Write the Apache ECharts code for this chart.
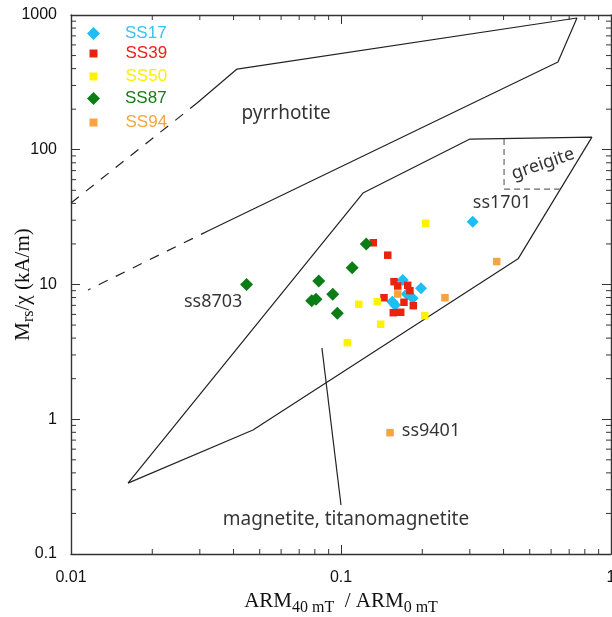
<!DOCTYPE html>
<html>
<head>
<meta charset="utf-8">
<script src="https://cdn.jsdelivr.net/npm/echarts@6/dist/echarts.min.js"></script>
<style>
html, body { margin: 0; padding: 0; background: #fff; }
#chart { width: 612px; height: 617px; }
</style>
</head>
<body>
<div id="chart"></div>
<script>
// Sample measurements: [ARM40mT/ARM0mT, Mrs/chi (kA/m)]
const ss17 = [[0.1693, 10.8], [0.1978, 9.37], [0.1751, 8.5], [0.1843, 7.9], [0.1549, 7.45], [0.1585, 7.05], [0.3075, 29.2]];
const ss39 = [[0.1317, 20.4], [0.149, 16.5], [0.1572, 10.5], [0.1622, 9.75], [0.1766, 9.86], [0.180, 9.0], [0.1443, 7.98], [0.1711, 7.38], [0.1853, 6.96], [0.1562, 6.18], [0.1664, 6.22]];
const ss50 = [[0.206, 28.5], [0.1163, 7.13], [0.1363, 7.45], [0.2042, 5.87], [0.1403, 5.07], [0.1055, 3.70]];
const ss87 = [[0.0447, 10.0], [0.124, 20.0], [0.110, 13.3], [0.0827, 10.6], [0.0932, 8.46], [0.0779, 7.58], [0.0808, 7.77], [0.0969, 6.11]];
const ss94 = [[0.1622, 8.5], [0.2427, 7.98], [0.3773, 14.8], [0.1519, 0.795]];

// Field boundaries
const pyrrhotiteSolid = [[0.0293, 222], [0.0412, 397], [0.748, 950], [0.636, 448], [0.0327, 25.4]];
const pyrrhotiteUpperDash = [[0.01, 40.3], [0.0293, 222]];
const pyrrhotiteLowerDash = [[0.0327, 25.4], [0.01156, 9.1]];
const magnetiteField = [[0.01626, 0.336], [0.1206, 47.7], [0.3003, 120], [0.850, 124], [0.4527, 15.5], [0.0472, 0.832], [0.01626, 0.336]];
const greigiteBox = [[0.4017, 120], [0.4017, 51.1], [0.647, 51.1]];
const magnetiteLeader = [[0.0850, 3.38], [0.1, 0.231]];

// Text annotations: [text, x, y]
const fieldNames = [['pyrrhotite', 0.0626, 184], ['magnetite, titanomagnetite', 0.1043, 0.179]];
const sampleNames = [['ss1701', 0.3948, 40.3], ['ss8703', 0.0336, 7.41], ['ss9401', 0.2154, 0.818]];
const greigiteName = ['greigite', 0.5602, 78.4];

// Axis extents and minor tick values
const xRange = [0.01, 1];
const yRange = [0.1, 1000];
const xMinor = [0.02, 0.03, 0.04, 0.05, 0.06, 0.07, 0.08, 0.09, 0.2, 0.3, 0.4, 0.5, 0.6, 0.7, 0.8, 0.9];
const yMinor = [0.2, 0.3, 0.4, 0.5, 0.6, 0.7, 0.8, 0.9, 2, 3, 4, 5, 6, 7, 8, 9, 20, 30, 40, 50, 60, 70, 80, 90, 200, 300, 400, 500, 600, 700, 800, 900];

const seriesInfo = [
  { name: 'SS17', data: ss17, symbol: 'diamond', size: 12, color: '#1DBDF5', text: '#35C4F5' },
  { name: 'SS39', data: ss39, symbol: 'rect', size: 7.5, color: '#E8240E', text: '#EE1E18' },
  { name: 'SS50', data: ss50, symbol: 'rect', size: 7.5, color: '#FFF200', text: '#FFEE00' },
  { name: 'SS87', data: ss87, symbol: 'diamond', size: 13, color: '#0B7D16', text: '#1A7A1A' },
  { name: 'SS94', data: ss94, symbol: 'rect', size: 7.5, color: '#F8A340', text: '#F9A540' }
];
const legendTops = [25, 45, 68, 90, 114];

const chart = echarts.init(document.getElementById('chart'), null, { renderer: 'canvas' });

const fmt = v => String(+(+v).toPrecision(4));
const edge = '#333';
const outline = '#222';

function boundary(data, dashed, color) {
  return {
    type: 'line', data: data, symbol: 'none', silent: true, z: 2,
    lineStyle: { color: color || outline, width: 1.2, type: dashed || 'solid' },
    animation: false
  };
}

function xTickItem(params, api) {
  const cs = params.coordSys;
  const x = api.coord([api.value(0), 1])[0];
  const b = cs.y + cs.height;
  return {
    type: 'group', children: [
      { type: 'line', shape: { x1: x, y1: b, x2: x, y2: b - 5 }, style: { stroke: edge, lineWidth: 1 } },
      { type: 'line', shape: { x1: x, y1: cs.y, x2: x, y2: cs.y + 5 }, style: { stroke: edge, lineWidth: 1 } }
    ]
  };
}
function yTickItem(params, api) {
  const cs = params.coordSys;
  const y = api.coord([0.1, api.value(1)])[1];
  const r = cs.x + cs.width;
  return {
    type: 'group', children: [
      { type: 'line', shape: { x1: cs.x, y1: y, x2: cs.x + 5, y2: y }, style: { stroke: edge, lineWidth: 1 } },
      { type: 'line', shape: { x1: r, y1: y, x2: r - 5, y2: y }, style: { stroke: edge, lineWidth: 1 } }
    ]
  };
}

const textFont = "'Noto Sans', 'Open Sans', sans-serif";
function annotation(items, extra) {
  return {
    type: 'scatter', silent: true, z: 4, symbolSize: 1,
    itemStyle: { color: 'rgba(0,0,0,0)' },
    data: items.map(t => ({ name: t[0], value: [t[1], t[2]] })),
    label: Object.assign({ show: true, position: 'inside', formatter: '{b}', fontSize: 18, fontFamily: textFont, color: '#000' }, extra || {}),
    animation: false
  };
}

const serif = "'Liberation Serif', 'DejaVu Serif', serif";
// main text and lowered subscript for the axis titles
const titleRich = {
  m: { fontSize: 21, fontFamily: serif, color: '#111' },
  s: { fontSize: 16, fontFamily: serif, color: '#111', padding: [12, 0, 0, 0] }
};
const logAxisBase = {
  type: 'log', logBase: 10,
  axisLine: { show: true, lineStyle: { color: edge, width: 1.4 } },
  axisTick: { show: true, inside: true, length: 9, lineStyle: { color: edge, width: 1 } },
  splitLine: { show: false },
  minorTick: { show: false }
};

const option = {
  backgroundColor: '#fff',
  animation: false,
  grid: { left: 71, right: 1, top: 15, bottom: 63, containLabel: false, outerBoundsMode: 'none' },
  legend: seriesInfo.map((s, i) => ({
    data: [{ name: s.name, icon: s.symbol }],
    orient: 'vertical',
    left: s.symbol === 'diamond' ? 87 : 89.5,
    top: legendTops[i],
    padding: 0,
    itemWidth: s.symbol === 'diamond' ? 13 : 8,
    itemHeight: s.symbol === 'diamond' ? 13 : 8,
    selectedMode: false,
    textStyle: {
      color: s.text, fontSize: 17, fontFamily: "'Liberation Sans', Arial, sans-serif",
      padding: [0, 0, 0, s.symbol === 'diamond' ? 20 : 23]
    }
  })),
  xAxis: [
    Object.assign({}, logAxisBase, {
      min: xRange[0], max: xRange[1], position: 'bottom',
      axisLabel: { formatter: fmt, fontSize: 16, color: '#111', margin: 16, fontFamily: "'Liberation Sans', Arial, sans-serif", showMinLabel: true, showMaxLabel: true, hideOverlap: false },
      name: '{m|ARM}{s|40 mT}{m|  / ARM}{s|0 mT}',
      nameLocation: 'middle', nameGap: 29,
      nameTextStyle: { color: '#111', fontFamily: serif, rich: titleRich }
    }),
    Object.assign({}, logAxisBase, {
      min: xRange[0], max: xRange[1], position: 'top', axisLabel: { show: false }
    })
  ],
  yAxis: [
    Object.assign({}, logAxisBase, {
      min: yRange[0], max: yRange[1], position: 'left',
      axisLabel: { formatter: fmt, fontSize: 16, color: '#111', margin: 14, fontFamily: "'Liberation Sans', Arial, sans-serif", showMinLabel: true, showMaxLabel: true },
      name: '{m|M}{s|rs}{m|/χ (kA/m)}',
      nameLocation: 'middle', nameGap: 34, nameRotate: 90, nameMoveOverlap: false,
      nameTextStyle: { color: '#111', fontFamily: serif, rich: titleRich }
    }),
    Object.assign({}, logAxisBase, {
      min: yRange[0], max: yRange[1], position: 'right', axisLabel: { show: false }
    })
  ],
  series: [
    boundary(pyrrhotiteSolid),
    boundary(pyrrhotiteUpperDash, [10, 9]),
    boundary(pyrrhotiteLowerDash, [10, 9]),
    boundary(magnetiteField),
    boundary(greigiteBox, [6, 4], '#666'),
    boundary(magnetiteLeader),
    {
      type: 'custom', silent: true, z: 1, renderItem: xTickItem,
      data: xMinor.map(v => [v, 1]), encode: { x: 0, y: 1 }, animation: false
    },
    {
      type: 'custom', silent: true, z: 1, renderItem: yTickItem,
      data: yMinor.map(v => [0.1, v]), encode: { x: 0, y: 1 }, animation: false
    },
    annotation(fieldNames, { fontSize: 19 }),
    annotation(sampleNames),
    annotation([greigiteName], { rotate: 19 })
  ].concat(seriesInfo.map(s => ({
    type: 'scatter', name: s.name, data: s.data, symbol: s.symbol, symbolSize: s.size,
    itemStyle: { color: s.color, opacity: 1 }, z: 5, animation: false
  })))
};

chart.setOption(option);
</script>
</body>
</html>
